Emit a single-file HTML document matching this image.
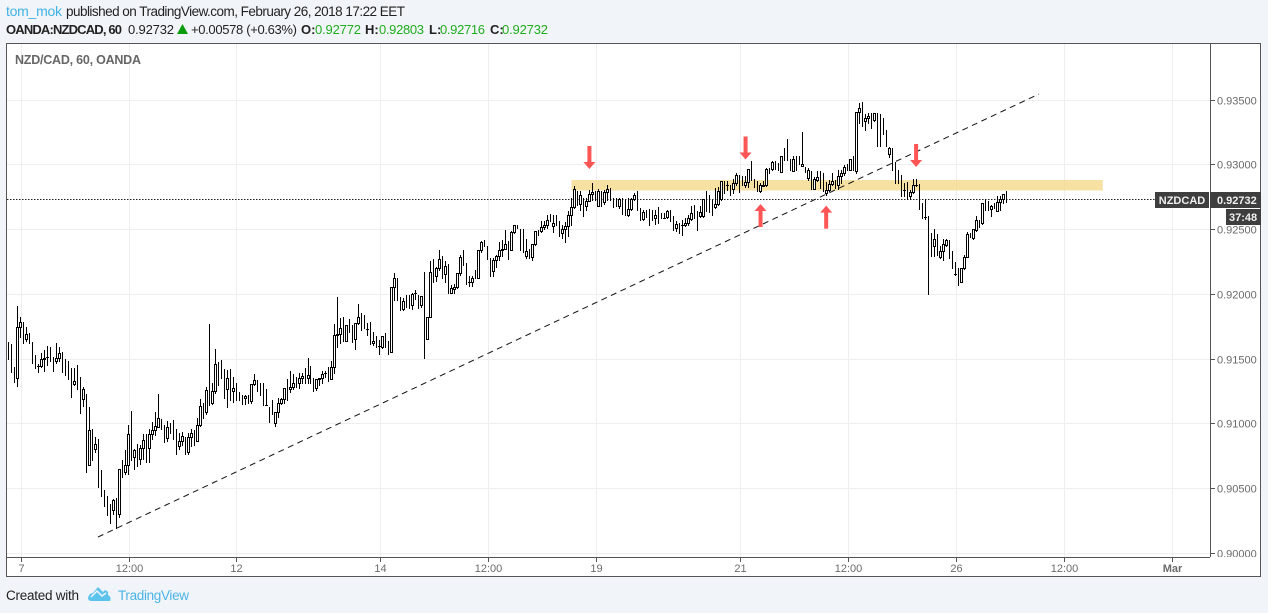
<!DOCTYPE html>
<html lang="en">
<head>
<meta charset="utf-8">
<title>NZD/CAD chart</title>
<style>
html,body{margin:0;padding:0;background:#f1f4f8;}
body{width:1268px;height:613px;overflow:hidden;font-family:"Liberation Sans",Arial,sans-serif;}
svg{display:block;font-family:"Liberation Sans",Arial,sans-serif;}
</style>
</head>
<body>
<svg id="root" width="1268" height="613" viewBox="0 0 1268 613">
  <defs><clipPath id="axisClip"><rect x="1211" y="44" width="50" height="513"></rect></clipPath>
  <clipPath id="paneClip"><rect x="7" y="44" width="1203" height="513"></rect></clipPath></defs>

  <g font-size="13.5">
    <text x="6" y="16" fill="#3fb2e6" font-size="14" textLength="56" lengthAdjust="spacing">tom_mok</text>
    <text x="66" y="16" fill="#222" textLength="339" lengthAdjust="spacing">published on TradingView.com, February 26, 2018 17:22 EET</text>
  </g>
  <g font-size="13">
    <text x="6" y="34" fill="#222" font-weight="bold" textLength="116" lengthAdjust="spacing">OANDA:NZDCAD, 60</text>
    <text x="128" y="34" fill="#222" textLength="46" lengthAdjust="spacing">0.92732</text>
    <polygon points="177,34 182.5,24 188,34" fill="#0a9c0a"></polygon>
    <text x="191" y="34" fill="#222" textLength="106" lengthAdjust="spacing">+0.00578 (+0.63%)</text>
    <text x="301" y="34" fill="#222" font-weight="bold">O:</text>
    <text x="315" y="34" fill="#1fad1f" textLength="46" lengthAdjust="spacing">0.92772</text>
    <text x="365" y="34" fill="#222" font-weight="bold">H:</text>
    <text x="379" y="34" fill="#1fad1f" textLength="45" lengthAdjust="spacing">0.92803</text>
    <text x="429" y="34" fill="#222" font-weight="bold">L:</text>
    <text x="440" y="34" fill="#1fad1f" textLength="45" lengthAdjust="spacing">0.92716</text>
    <text x="490" y="34" fill="#222" font-weight="bold">C:</text>
    <text x="502" y="34" fill="#1fad1f" textLength="46" lengthAdjust="spacing">0.92732</text>
  </g>

  <rect x="6.5" y="43.5" width="1254" height="533" fill="#fff" stroke="#555"></rect>
  <g id="grid"></g>
  <text x="15" y="64" font-size="12.5" font-weight="bold" fill="#666" textLength="126" lengthAdjust="spacing">NZD/CAD, 60, OANDA</text>
  <g id="annotBelow" clip-path="url(#paneClip)"></g>
  <g id="candles" clip-path="url(#paneClip)"></g>
  <g id="annotAbove" clip-path="url(#paneClip)"></g>

  <line x1="1210.5" y1="44" x2="1210.5" y2="557" stroke="#555"></line>
  <line x1="7" y1="557.5" x2="1210" y2="557.5" stroke="#555"></line>
  <g id="priceAxis"></g>
  <g id="timeAxis"></g>
  <g id="lastLabels"></g>

  <g>
    <text x="6" y="600" font-size="13.5" fill="#222" textLength="73" lengthAdjust="spacing">Created with</text>
    <path d="M88 598 Q89 593 93 593 L98 587 L103 592 L105 590 Q109 591 108 595 Q112 597 110 601 L92 601 Q88 601 88 598 Z" fill="#5cc3ec"></path>
    <path d="M91 597 L97 591 L102 596 L106 593" fill="none" stroke="#f1f4f8" stroke-width="1.5"></path>
    <text x="118" y="600" font-size="13.5" fill="#4ab4e6" textLength="71" lengthAdjust="spacing">TradingView</text>
  </g>
</svg>
<script>
const opens = [
91630,91615,91437,91352,91747,91791,91659,91701,91631,91533,
91450,91450,91499,91520,91597,91520,91484,91512,91553,91499,
91486,91430,91311,91455,91360,91190,91231,90687,90958,90808,
90883,90643,90493,90442,90380,90338,90431,90307,90720,90630,
90687,91099,90746,90844,90731,90818,90921,90818,90919,90950,
90978,91035,90991,90893,91009,91030,90958,90831,90872,90901,
90780,90898,90952,90872,90991,91159,91094,91773,91164,91252,
91481,91494,91422,91267,91422,91257,91319,91249,91223,91197,
91223,91179,91306,91340,91314,91314,91146,91133,91185,91009,
91092,91159,91190,91345,91267,91288,91360,91319,91352,91430,
91357,91448,91352,91280,91344,91352,91391,91442,91350,91442,
91685,91698,91824,91644,91809,91765,91654,91778,91860,91842,
91737,91791,91623,91680,91602,91597,91706,91641,91558,92056,
92126,91979,91889,91994,91997,91922,92010,91997,91920,92170,
91654,91829,92273,92139,92203,92294,92155,92237,92015,92046,
92056,92165,92340,92242,92100,92100,92191,92126,92340,92418,
92376,92281,92178,92263,92294,92340,92353,92410,92340,92480,
92539,92508,92508,92294,92351,92286,92389,92500,92492,92521,
92534,92624,92526,92616,92565,92474,92505,92526,92614,92675,
92797,92696,92745,92681,92724,92776,92797,92681,92797,92712,
92792,92822,92745,92745,92681,92745,92732,92611,92660,92737,
92797,92668,92583,92655,92660,92655,92588,92675,92629,92593,
92595,92655,92608,92513,92552,92534,92534,92552,92583,92694,
92642,92603,92603,92797,92771,92732,92675,92701,92737,92874,
92843,92848,92815,92861,92926,92913,92848,92866,93029,92892,
92874,92797,92840,92848,92977,92970,93029,93016,92944,93132,
93202,93047,92957,93068,93068,92993,92985,92900,92952,92815,
92887,92952,92939,92784,92805,92854,92887,92849,92913,92939,
93011,92965,93068,92957,93409,93486,93339,93365,93403,93347,
93403,93390,93365,93274,93086,93132,93022,92965,92926,92810,
92867,92758,92792,92849,92854,92707,92596,92609,92475,92371,
92469,92289,92338,92379,92423,92338,92160,92204,92093,92204,
92286,92475,92436,92500,92578,92552,92740,92720,92660,92707,
92642,92712,92738,92772];
const highs = [
91630,91615,91437,91912,91824,91791,91747,91701,91631,91533,
91463,91546,91572,91603,91597,91520,91623,91597,91553,91499,
91486,91430,91430,91455,91360,91288,91231,91128,90958,90896,
90883,90643,90493,90442,90380,90424,90431,90656,90720,90798,
90991,91099,90810,90844,90836,90921,90921,90965,91014,91089,
91231,91035,90991,91025,91009,91030,90958,90927,90939,90901,
90927,90958,90952,91043,91190,91159,91283,91773,91314,91579,
91481,91494,91422,91417,91422,91360,91319,91249,91223,91223,
91223,91306,91386,91340,91314,91314,91267,91133,91185,91092,
91197,91197,91280,91345,91409,91386,91360,91391,91391,91430,
91507,91448,91352,91344,91352,91411,91411,91442,91486,91773,
91979,91817,91824,91762,91809,91765,91778,91925,91860,91842,
91778,91791,91713,91680,91649,91680,91706,91641,92056,92165,
92126,91979,91971,91994,91997,92010,92036,91997,91989,92170,
91829,92255,92273,92216,92340,92294,92255,92237,92075,92082,
92165,92307,92340,92242,92139,92139,92191,92340,92410,92418,
92376,92281,92281,92307,92405,92423,92495,92410,92487,92539,
92539,92508,92508,92428,92351,92389,92492,92500,92570,92565,
92616,92624,92616,92616,92565,92539,92557,92642,92745,92835,
92797,92797,92745,92745,92810,92861,92797,92815,92797,92810,
92848,92822,92745,92745,92745,92745,92732,92745,92745,92784,
92797,92668,92655,92655,92660,92655,92655,92675,92629,92629,
92655,92655,92608,92564,92552,92577,92590,92616,92681,92694,
92642,92686,92737,92797,92771,92732,92822,92830,92874,92874,
92874,92848,92892,92939,92926,92913,92913,92970,93029,92892,
92874,92861,92874,92977,92977,93029,93029,93016,93073,93132,
93202,93047,93068,93068,93068,93256,92985,92978,92952,92908,
92952,92952,92939,92867,92887,92939,92887,92965,92965,93003,
93011,93050,93068,93409,93481,93486,93390,93403,93403,93403,
93403,93390,93365,93274,93140,93132,93022,92965,92926,92862,
92867,92810,92893,92893,92854,92707,92738,92609,92475,92506,
92469,92371,92428,92428,92423,92338,92250,92204,92204,92302,
92482,92475,92506,92609,92578,92707,92740,92720,92694,92707,
92758,92763,92779,92803];
const lows = [
91500,91404,91327,91296,91675,91623,91644,91623,91474,91430,
91404,91437,91412,91453,91489,91412,91468,91484,91404,91378,
91347,91210,91301,91267,91087,91141,90630,90687,90720,90785,
90514,90444,90364,90295,90235,90302,90196,90282,90591,90612,
90617,90720,90656,90676,90694,90728,90707,90707,90888,90914,
90973,90965,90862,90870,90932,90883,90772,90805,90836,90772,
90772,90829,90836,90870,90983,91050,91081,91146,91154,91236,
91301,91352,91197,91133,91185,91172,91185,91185,91154,91154,
91159,91164,91301,91254,91223,91146,91146,91012,91081,90983,
91056,91154,91159,91185,91249,91267,91288,91275,91313,91313,
91313,91313,91257,91262,91300,91313,91365,91334,91350,91391,
91597,91628,91644,91644,91713,91636,91582,91773,91726,91739,
91688,91615,91610,91592,91540,91584,91597,91538,91558,91958,
91958,91881,91881,91907,91894,91886,91964,91894,91907,91512,
91654,91829,92100,92108,92191,92126,92100,92010,92010,92015,
92049,92152,92229,92082,92067,92067,92126,92126,92332,92371,
92273,92139,92144,92216,92268,92294,92350,92273,92340,92474,
92513,92345,92332,92281,92281,92268,92384,92461,92480,92505,
92513,92565,92480,92539,92449,92436,92405,92454,92539,92668,
92694,92650,92603,92655,92719,92732,92727,92681,92681,92701,
92727,92732,92675,92686,92668,92624,92616,92608,92655,92732,
92655,92577,92577,92598,92539,92577,92546,92552,92590,92588,
92590,92564,92500,92487,92474,92461,92526,92539,92577,92590,
92495,92598,92598,92642,92634,92616,92668,92693,92732,92784,
92810,92771,92784,92848,92789,92848,92830,92830,92887,92830,
92802,92789,92835,92840,92939,92959,92970,92964,92944,93042,
93042,92964,92952,92965,93011,92993,92949,92887,92815,92815,
92874,92823,92797,92769,92797,92849,92823,92815,92862,92926,
92965,92965,92960,92939,93326,93305,93274,93326,93287,93339,
93145,93145,93236,93145,93063,92965,92862,92862,92764,92764,
92738,92738,92784,92836,92660,92591,92583,92002,92294,92294,
92307,92281,92268,92371,92281,92204,92152,92070,92093,92199,
92286,92441,92431,92493,92521,92544,92655,92650,92609,92668,
92642,92655,92707,92716];
const closes = [
91500,91404,91327,91747,91786,91623,91693,91623,91474,91430,
91450,91499,91512,91520,91489,91412,91512,91546,91404,91378,
91347,91210,91329,91267,91087,91267,90630,90952,90720,90849,
90514,90444,90364,90295,90235,90411,90196,90656,90591,90687,
90919,90720,90798,90676,90818,90875,90707,90919,90950,90983,
91043,90965,90862,90978,90932,90883,90772,90872,90906,90772,
90898,90934,90836,90991,91136,91050,91262,91146,91252,91463,
91301,91352,91197,91352,91185,91275,91185,91185,91154,91216,
91159,91306,91340,91254,91223,91146,91146,91012,91081,91092,
91159,91190,91280,91185,91288,91319,91288,91352,91370,91313,
91375,91313,91257,91344,91352,91386,91391,91334,91442,91685,
91698,91739,91644,91762,91713,91636,91778,91829,91726,91739,
91737,91615,91638,91592,91602,91680,91597,91538,92056,92126,
91958,91881,91951,91907,91894,92002,92010,91894,91989,91512,
91829,92173,92100,92203,92273,92126,92222,92010,92049,92056,
92165,92289,92229,92082,92100,92126,92126,92340,92405,92371,
92273,92139,92263,92294,92340,92353,92387,92273,92480,92534,
92513,92345,92332,92335,92281,92389,92492,92461,92521,92534,
92572,92565,92552,92539,92449,92505,92526,92614,92675,92815,
92694,92771,92603,92724,92776,92792,92727,92797,92681,92792,
92815,92732,92675,92686,92737,92624,92616,92660,92737,92771,
92655,92577,92634,92598,92539,92577,92614,92552,92590,92593,
92647,92564,92500,92544,92474,92534,92552,92590,92629,92590,
92495,92634,92737,92642,92634,92616,92701,92797,92874,92784,
92843,92771,92861,92926,92789,92848,92866,92970,92887,92830,
92802,92848,92848,92970,92939,93021,92970,92964,93068,93042,
93042,92964,93050,92965,93011,93011,92949,92965,92815,92893,
92908,92823,92797,92810,92854,92880,92823,92913,92939,92985,
92965,93047,92960,93409,93437,93305,93365,93378,93287,93403,
93145,93145,93236,93145,93132,92965,92862,92862,92764,92810,
92738,92792,92844,92849,92660,92591,92596,92002,92294,92428,
92307,92338,92392,92420,92281,92204,92160,92070,92204,92286,
92469,92441,92506,92578,92521,92707,92655,92650,92686,92668,
92712,92738,92776,92732];

const priceTicks = [0.90000,0.90500,0.91000,0.91500,0.92000,0.92500,0.93000,0.93500];
const timeLabels = ["7","12:00","12","14","12:00","19","21","12:00","26","12:00","Mar"];
const timeBars = [4.4,40.4,76.2,124.2,160.2,196.2,244.3,280.3,316.4,352.4,388.4];
const trendBars = [29.9,343.9];
const trendPrices = [0.90127,0.93548];
const bandBars = [187.9,365.2];
const bandPrices = [0.92884,0.92803];
const arrowBars = [193.9,246,302.9,251,272.9];
const arrowPrices = [0.92969,0.93042,0.92985,0.92699,0.92686];
const arrowDirections = ["down","down","down","up","up"];
const symbolName = "NZDCAD";
const countdownText = "37:48";

const SVGNS = "http://www.w3.org/2000/svg";
function x(i){ return 8.3 + 2.997 * i; }
function y(p){ return 553.5 - (p - 0.9) * 12950; }
function yPip(v){ return y(v / 100000); }
function snap(v){ return Math.floor(v) + 0.5; }
function mk(tag, parent, attrs){
  const el = document.createElementNS(SVGNS, tag);
  for (const k in attrs) el.setAttribute(k, attrs[k]);
  parent.appendChild(el);
  return el;
}
const gridG = document.getElementById("grid");
const priceG = document.getElementById("priceAxis");
const timeG = document.getElementById("timeAxis");
const labelsG = document.getElementById("lastLabels");
const candlesG = document.getElementById("candles");
const belowG = document.getElementById("annotBelow");
const aboveG = document.getElementById("annotAbove");

const priceClip = mk("g", priceG, {"clip-path":"url(#axisClip)"});


priceTicks.forEach(function(p){
  const py = snap(y(p));
  const g = mk("line", gridG, {x1:7,x2:1210,y1:py,y2:py,stroke:"#eeeeee"});
  
  
  const t = mk("line", priceG, {x1:1211,x2:1215,y1:py,y2:py,stroke:"#555"});
  
  
  const l = mk("text", priceClip, {x:1217,y:py+4,"font-size":11,fill:"#6a6a6a"});
  
  
  l.textContent = p.toFixed(5);
});
timeLabels.forEach(function(lab,i){
  const px = snap(x(timeBars[i]));
  const g = mk("line", gridG, {x1:px,x2:px,y1:44,y2:557,stroke:"#eeeeee"});
  
  
  const t = mk("line", timeG, {x1:px,x2:px,y1:558,y2:562,stroke:"#555"});
  
  
  const l = mk("text", timeG, {x:px,y:572,"font-size":11,fill:"#6a6a6a","text-anchor":"middle"});
  
  
  if (lab === "Mar") l.setAttribute("font-weight","bold");
  l.textContent = lab;
});

const bandX1 = x(bandBars[0]), bandX2 = x(bandBars[1]);
const bandY1 = y(bandPrices[0]), bandY2 = y(bandPrices[1]);
const band = mk("rect", belowG, {x:bandX1,y:bandY1,width:bandX2-bandX1,height:bandY2-bandY1,fill:"#f3d784",opacity:0.75});



const lastClose = closes[closes.length-1];
const priceLineY = snap(yPip(lastClose));
const dotted = mk("line", belowG, {x1:7,x2:1155,y1:priceLineY,y2:priceLineY,stroke:"#222","stroke-dasharray":"1.5 1.5"});



opens.forEach(function(o,i){
  const h = highs[i], l = lows[i], c = closes[i];
  const px = snap(x(i));
  const g = mk("g", candlesG, {"shape-rendering":"crispEdges"});
  
  
  const wick = mk("line", g, {x1:px,x2:px,y1:Math.round(yPip(h)),y2:Math.round(yPip(l))+1,stroke:"#000"});
  
  
  if (c > o) {
    const top = Math.round(yPip(c))+0.5, bot = Math.round(yPip(o))+0.5;
    const body = mk("rect", g, {x:px-1,y:top,width:2,height:Math.max(bot-top,1),fill:"#fff",stroke:"#000"});
    
    
  } else if (c === o) {
    const dy = Math.round(yPip(c))+0.5;
    const tick = mk("line", g, {x1:px-1.5,x2:px+1.5,y1:dy,y2:dy,stroke:"#000"});
    
    
  } else {
    const bodyD = mk("line", g, {x1:px,x2:px,y1:Math.round(yPip(o)),y2:Math.round(yPip(c))+1,stroke:"#000"});
    
    
  }
});

const trend = mk("line", aboveG, {x1:x(trendBars[0]),y1:y(trendPrices[0]),x2:x(trendBars[1]),y2:y(trendPrices[1]),stroke:"#111","stroke-width":1,"stroke-dasharray":"6 4.5"});



arrowBars.forEach(function(b,i){
  const ax = x(b), ay = y(arrowPrices[i]);
  const s = arrowDirections[i] === "down" ? -1 : 1;
  const d = "M"+ax+" "+ay+" L"+(ax+6)+" "+(ay+s*7)+" L"+(ax+2)+" "+(ay+s*7)+" L"+(ax+2)+" "+(ay+s*23)+" L"+(ax-2)+" "+(ay+s*23)+" L"+(ax-2)+" "+(ay+s*7)+" L"+(ax-6)+" "+(ay+s*7)+" Z";
  const a = mk("path", aboveG, {d:d,fill:"#ff5555"});
  
  
});

const boxTop = priceLineY - 7.5;
const symBox = mk("rect", labelsG, {x:1155,y:boxTop,width:54,height:16,fill:"#3e3e3e"});


const symTxt = mk("text", labelsG, {x:1182,y:boxTop+12,"font-size":11,"font-weight":"bold",fill:"#f0f0f0","text-anchor":"middle"});


symTxt.textContent = symbolName;
const valBox = mk("rect", labelsG, {x:1210,y:boxTop,width:51,height:16,fill:"#3e3e3e"});


const valTxt = mk("text", labelsG, {x:1217,y:boxTop+12,"font-size":11,"font-weight":"bold",fill:"#f0f0f0"});


valTxt.textContent = (lastClose/100000).toFixed(5);
const cdBox = mk("rect", labelsG, {x:1226,y:boxTop+17,width:35,height:16,fill:"#3e3e3e"});


const cdTxt = mk("text", labelsG, {x:1229,y:boxTop+29,"font-size":11,"font-weight":"bold",fill:"#f0f0f0"});


cdTxt.textContent = countdownText;
</script>
</body>
</html>
